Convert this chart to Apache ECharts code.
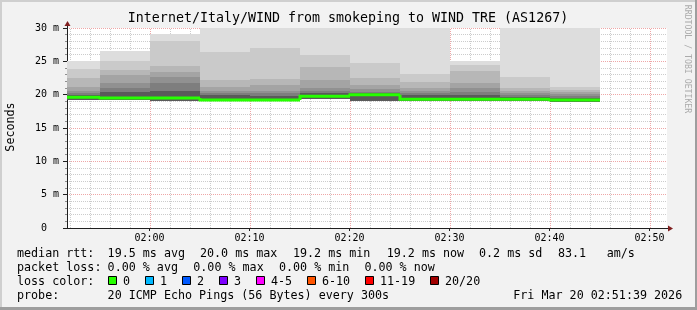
<!DOCTYPE html>
<html><head><meta charset="utf-8">
<script src="https://cdn.jsdelivr.net/npm/echarts@6/dist/echarts.min.js"></script>
<style>html,body{margin:0;padding:0;background:#f2f2f2}#c{width:697px;height:310px}</style>
</head><body><div id="c"></div>
<script>
// ---------------- data ----------------
const titleText = 'Internet/Italy/WIND from smokeping to WIND TRE (AS1267)';
const windowStart = '01:51:45';
const windowEnd = '02:51:45';
const binStarts = ['01:50','01:55','02:00','02:05','02:10','02:15','02:20','02:25','02:30','02:35','02:40'];
const binLengthMin = 5;
// smoke band upper edges (ms), outermost (lightest) to innermost (darkest)
const smokeHi1 = [25.0, 26.55, 29.15, 30, 30, 30, 30, 30, 25.0, 30, 30];
const smokeHi2 = [23.8, 25.0, 28.05, 26.45, 26.95, 25.95, 24.75, 23.1, 24.45, 22.65, 21.2];
const smokeHi3 = [22.5, 23.7, 24.3, 22.2, 22.3, 24.2, 22.5, 21.95, 23.6, 20.95, 20.7];
const smokeHi4 = [21.2, 22.95, 23.45, 21.2, 21.45, 22.2, 21.4, 21.0, 21.8, 20.5, 20.4];
const smokeHi5 = [20.6, 21.7, 22.7, 20.6, 20.6, 20.95, 20.85, 20.5, 21.0, 20.2, 20.1];
const smokeHi6 = [20.2, 20.95, 21.7, 20.2, 20.2, 20.6, 20.45, 20.2, 20.4, 19.9, 19.8];
const smokeHi7 = [19.9, 20.45, 20.5, 19.95, 19.8, 20.3, 20.2, 19.95, 19.95, 19.7, 19.5];
const smokeLow = [19.15, 19.15, 19.1, 19.0, 19.0, 19.4, 19.0, 19.05, 19.05, 19.05, 18.95];
const medianRtt = [19.6, 19.5, 19.5, 19.2, 19.2, 19.75, 20.0, 19.3, 19.3, 19.3, 19.2];
const xLabels = ['02:00','02:10','02:20','02:30','02:40','02:50'];
const yMax = 30, yStep = 5;
const lossLabels = ['0','1','2','3','4-5','6-10','11-19','20/20'];
const lossColors = ['#26ff00','#00b8ff','#0059ff','#7e00ff','#ff00ff','#ff5500','#ff0000','#a10000'];
const legendRtt = ['median rtt:','19.5 ms avg','20.0 ms max','19.2 ms min','19.2 ms now','0.2 ms sd','83.1','am/s'];
const legendLoss = ['packet loss:','0.00 % avg','0.00 % max','0.00 % min','0.00 % now'];
const legendLossColor = 'loss color:';
const legendProbe = ['probe:','20 ICMP Echo Pings (56 Bytes) every 300s'];
const stampText = 'Fri Mar 20 02:51:39 2026';
const watermark = 'RRDTOOL / TOBI OETIKER';

// ---------------- helpers ----------------
const toSec = s => { const p = s.split(':').map(Number); return p[0]*3600 + p[1]*60 + (p[2] || 0); };
const fmt = v => { const h = Math.floor(v/3600), m = Math.floor((v%3600)/60); return String(h).padStart(2,'0') + ':' + String(m).padStart(2,'0'); };
const xMin = toSec(windowStart), xMax = toSec(windowEnd);
const starts = binStarts.map(toSec);
const ends = starts.map(s => s + binLengthMin*60);
const majorX = xLabels.map(toSec);
const minorX = [];
for (let t = Math.ceil(xMin/120)*120; t <= xMax; t += 120) if (t % 600 !== 0) minorX.push(t);

const FONT = 'DejaVu Sans Mono';
const bands = [smokeHi1, smokeHi2, smokeHi3, smokeHi4, smokeHi5, smokeHi6, smokeHi7];
const bandColors = ['#dddddd','#cacaca','#b7b7b7','#a4a4a4','#919191','#7e7e7e','#5a5a5a'];

const smokeSeries = bands.map((hi, k) => ({
  type: 'custom', clip: true, z: 2 + k, silent: true,
  data: starts.map((s, i) => [s, ends[i], smokeLow[i], hi[i]]),
  renderItem: (params, api) => {
    const a = api.coord([api.value(0), api.value(3)]);
    const b = api.coord([api.value(1), api.value(2)]);
    const x0 = Math.round(a[0]), x1 = Math.round(b[0]);
    const y0 = Math.round(a[1]), y1 = Math.round(b[1]);
    return { type: 'rect', shape: { x: x0, y: y0, width: x1 - x0, height: y1 - y0 },
      style: { fill: bandColors[k] } };
  }
}));

const vGrid = (vals, color, z) => ({
  type: 'custom', clip: true, z: z, silent: true,
  data: vals.map(v => [v]),
  renderItem: (params, api) => {
    const a = api.coord([api.value(0), 0]);
    const b = api.coord([api.value(0), yMax]);
    const x = Math.round(a[0]) + 0.5;
    return { type: 'line', shape: { x1: x, y1: a[1], x2: x, y2: b[1] },
      style: { stroke: color, lineWidth: 1, lineDash: [1, 1] } };
  }
});

// median: one step segment per bin, with a vertical connector from the previous bin
const medianSeries = {
  type: 'custom', clip: true, z: 20, silent: true,
  data: starts.map((s, i) => [s, ends[i], medianRtt[i], i > 0 ? medianRtt[i-1] : medianRtt[i]]),
  renderItem: (params, api) => {
    const p0 = api.coord([api.value(0), api.value(3)]);
    const p1 = api.coord([api.value(0), api.value(2)]);
    const p2 = api.coord([api.value(1), api.value(2)]);
    const x0 = Math.round(p0[0]), x2 = Math.round(p2[0]);
    return { type: 'polyline', shape: { points: [[x0, p0[1]], [x0, p1[1]], [x2, p2[1]]] },
      style: { stroke: lossColors[0], lineWidth: 3, fill: null, lineJoin: 'miter', lineCap: 'butt' } };
  }
};

const chart = echarts.init(document.getElementById('c'), null, { renderer: 'canvas' });

const textEl = (text, x, y, opt) => Object.assign({
  type: 'text', x: x, y: y, z: 100,
  style: Object.assign({ text: text, font: '11.7px "' + FONT + '"', fill: '#000', verticalAlign: 'middle', align: 'left' }, opt && opt.style)
}, opt && opt.el);

const graphics = [];
// frame
graphics.push({ type: 'rect', z: 90, shape: { x: 0, y: 0, width: 697, height: 2 }, style: { fill: '#cfcfcf' } });
graphics.push({ type: 'rect', z: 90, shape: { x: 0, y: 0, width: 2, height: 310 }, style: { fill: '#cfcfcf' } });
graphics.push({ type: 'rect', z: 91, shape: { x: 695, y: 0, width: 2, height: 310 }, style: { fill: '#9e9e9e' } });
graphics.push({ type: 'rect', z: 91, shape: { x: 0, y: 307, width: 697, height: 3 }, style: { fill: '#9e9e9e' } });
// title
graphics.push(textEl(titleText, 348, 19, { style: { font: '13.3px "' + FONT + '"', align: 'center' } }));
// y-axis title
graphics.push(textEl('Seconds', 10.5, 127, { style: { align: 'center' }, el: { rotation: Math.PI/2 } }));
// watermark
graphics.push(textEl(watermark, 687.5, 59, { style: { font: '8.2px "' + FONT + '"', fill: '#ababab', align: 'center' }, el: { rotation: -Math.PI/2 } }));
// legend line 1
const rttX = [17, 107.6, 200, 293, 386.7, 479, 558, 606.7];
legendRtt.forEach((t, i) => graphics.push(textEl(t, rttX[i], 254)));
const lossX = [17, 107.6, 193.3, 279, 364.4];
legendLoss.forEach((t, i) => graphics.push(textEl(t, lossX[i], 268)));
graphics.push(textEl(legendLossColor, 17, 282));
const boxX = [108.5, 145.5, 182.5, 219.5, 256.5, 307.5, 365.5, 430.5];
lossLabels.forEach((t, i) => {
  graphics.push({ type: 'rect', z: 100, shape: { x: boxX[i], y: 276.5, width: 8, height: 8 },
    style: { fill: lossColors[i], stroke: '#000', lineWidth: 1 } });
  graphics.push(textEl(t, boxX[i] + 14.5, 282));
});
graphics.push(textEl(legendProbe[0], 17, 296));
graphics.push(textEl(legendProbe[1], 107.6, 296));
graphics.push(textEl(stampText, 513.3, 296));

const option = {
  backgroundColor: '#f2f2f2',
  animation: false,
  grid: { left: 67, right: 30, top: 28, bottom: 82, show: true, backgroundColor: '#ffffff', borderWidth: 0 },
  xAxis: {
    type: 'value', min: xMin, max: xMax,
    axisLine: { show: true, onZero: false, lineStyle: { color: '#1f1f1f', width: 1 } },
    axisTick: { show: true, length: 3, customValues: majorX, lineStyle: { color: '#1f1f1f' } },
    axisLabel: { customValues: majorX, formatter: v => fmt(v), margin: 5, color: '#000', fontFamily: FONT, fontSize: 10 },
    splitLine: { show: false }
  },
  yAxis: {
    type: 'value', min: 0, max: yMax, interval: yStep,
    axisLine: { show: true, onZero: false, lineStyle: { color: '#1f1f1f', width: 1 } },
    axisTick: { show: true, length: 4, lineStyle: { color: '#1f1f1f' } },
    minorTick: { show: true, splitNumber: 5, length: 2, lineStyle: { color: '#8f8f8f' } },
    axisLabel: { formatter: v => v === 0 ? '0\u00a0\u00a0' : v + ' m', margin: 8, color: '#000', fontFamily: FONT, fontSize: 10 },
    splitLine: { show: true, lineStyle: { color: 'rgba(222,79,79,0.5)', type: [1, 1], width: 1 } },
    minorSplitLine: { show: true, lineStyle: { color: 'rgba(143,143,143,0.45)', type: [1, 1], width: 1 } }
  },
  series: [
    vGrid(minorX, 'rgba(143,143,143,0.45)', 1),
    vGrid(majorX, 'rgba(222,79,79,0.5)', 1),
    ...smokeSeries,
    medianSeries
  ],
  graphic: graphics
};
chart.setOption(option);

// axis arrows
const o = chart.convertToPixel({ gridIndex: 0 }, [xMin, 0]);
const yt = chart.convertToPixel({ gridIndex: 0 }, [xMin, yMax]);
const xr = chart.convertToPixel({ gridIndex: 0 }, [xMax, 0]);
const ox = Math.round(o[0]) + 0.5, oy = Math.round(o[1]) + 0.5;
const ty = Math.round(yt[1]), rx = Math.round(xr[0]);
chart.setOption({ graphic: graphics.concat([
  { type: 'line', z: 95, shape: { x1: ox, y1: ty, x2: ox, y2: ty - 3 }, style: { stroke: '#1f1f1f', lineWidth: 1 } },
  { type: 'polygon', z: 96, shape: { points: [[ox, ty - 7], [ox - 3, ty - 2], [ox + 3, ty - 2]] }, style: { fill: '#801f1f' } },
  { type: 'line', z: 95, shape: { x1: rx, y1: oy, x2: rx + 2, y2: oy }, style: { stroke: '#1f1f1f', lineWidth: 1 } },
  { type: 'polygon', z: 96, shape: { points: [[rx + 6, oy], [rx + 1, oy - 3], [rx + 1, oy + 3]] }, style: { fill: '#801f1f' } }
]) });
</script></body></html>
